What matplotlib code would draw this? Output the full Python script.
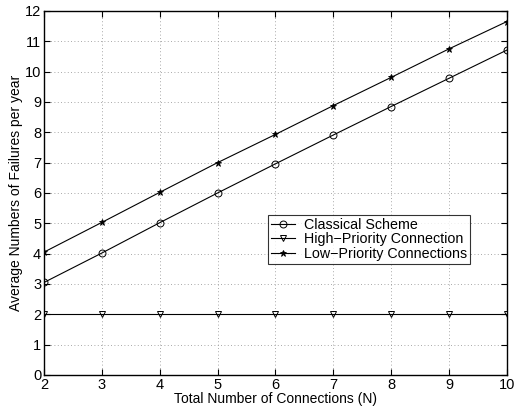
import numpy as np
import matplotlib
matplotlib.use("Agg")
import matplotlib.pyplot as plt

plt.rcParams['font.family'] = ['Liberation Sans', 'DejaVu Sans']

conexiones = [2, 3, 4, 5, 6, 7, 8, 9, 10]
clasico = [3.05, 4.02, 5.02, 6.0, 6.96, 7.91, 8.85, 9.78, 10.71]
alta_prioridad = [2.02, 2.02, 2.02, 2.02, 2.02, 2.02, 2.02, 2.02, 2.02]
baja_prioridad = [4.05, 5.03, 6.02, 7.0, 7.93, 8.88, 9.81, 10.75, 11.65]

fig = plt.figure(figsize=(5.14, 4.16), dpi=100)
ax = fig.add_axes([0.0856, 0.0986, 0.9004, 0.875])

ax.plot(conexiones, clasico, color='black', lw=0.8, marker='o', ms=5,
        mfc='none', mec='black', mew=0.7, label="Classical Scheme")
ax.plot(conexiones, alta_prioridad, color='black', lw=0.8, marker='v', ms=5,
        mfc='none', mec='black', mew=0.7, label="High\u2212Priority Connection")
ax.plot(conexiones, baja_prioridad, color='black', lw=0.8, marker='*', ms=5,
        mfc='black', mec='black', mew=0.6, label="Low\u2212Priority Connections")

ax.set_xlim(2, 10)
ax.set_ylim(0, 12)
ax.set_xticks(range(2, 11))
ax.set_yticks(range(0, 13))
ax.grid(True, linestyle=(0, (1, 3)), color='0.55', lw=0.6)
ax.tick_params(direction='in', labelsize=10.5, length=4, top=True, right=True, pad=2)
for s in ax.spines.values():
    s.set_linewidth(1.0)

ax.set_xlabel("Total Number of Connections (N)", fontsize=10, labelpad=0)
ax.set_ylabel("Average Numbers of Failures per year", fontsize=10, labelpad=1)

leg = ax.legend(loc='lower left', bbox_to_anchor=(0.484, 0.305), fontsize=10.3,
                frameon=True, fancybox=False, edgecolor='black',
                handlelength=1.7, borderpad=0.2, labelspacing=0.05,
                handletextpad=0.6, borderaxespad=0)
leg.get_frame().set_linewidth(0.8)

plt.savefig("out.png", dpi=100)
